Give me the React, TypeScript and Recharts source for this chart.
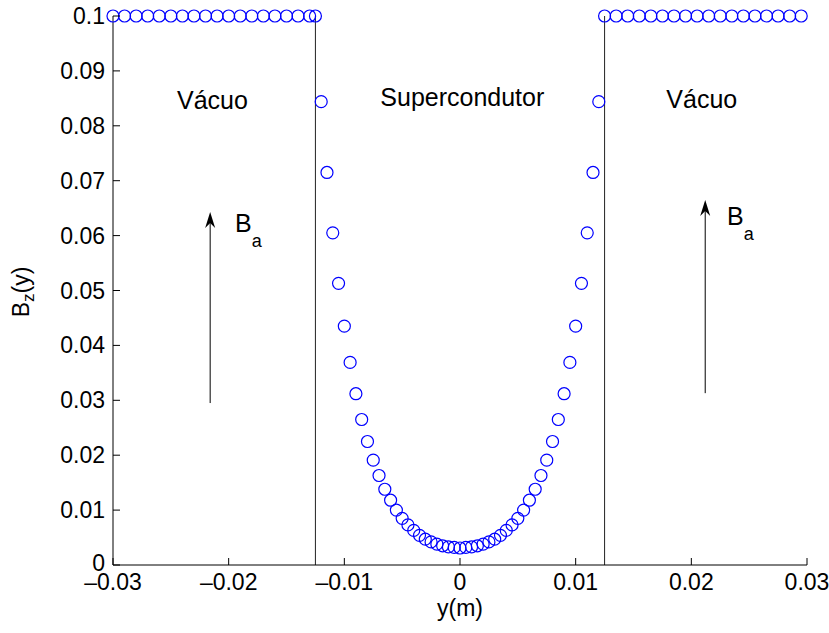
import {
  ScatterChart,
  Scatter,
  XAxis,
  YAxis,
  ReferenceLine,
  ReferenceDot,
} from 'recharts';

// y positions (m) of the field samples
const vacuumLeftY = [
  -0.03, -0.029, -0.028, -0.027, -0.026, -0.025, -0.024, -0.023, -0.022, -0.021,
  -0.02, -0.019, -0.018, -0.017, -0.016, -0.015, -0.014, -0.013, -0.0125,
];
const vacuumRightY = [
  0.0125, 0.0135, 0.0145, 0.0155, 0.0165, 0.0175, 0.0185, 0.0195, 0.0205,
  0.0215, 0.0225, 0.0235, 0.0245, 0.0255, 0.0265, 0.0275, 0.0285, 0.0295,
];
const vacuumB = 0.1;

const superY = [
  -0.012, -0.0115, -0.011, -0.0105, -0.01, -0.0095, -0.009, -0.0085, -0.008,
  -0.0075, -0.007, -0.0065, -0.006, -0.0055, -0.005, -0.0045, -0.004, -0.0035,
  -0.003, -0.0025, -0.002, -0.0015, -0.001, -0.0005, 0, 0.0005, 0.001, 0.0015,
  0.002, 0.0025, 0.003, 0.0035, 0.004, 0.0045, 0.005, 0.0055, 0.006, 0.0065,
  0.007, 0.0075, 0.008, 0.0085, 0.009, 0.0095, 0.01, 0.0105, 0.011, 0.0115, 0.012,
];
const superB = [
  0.0844, 0.0715, 0.0605, 0.0513, 0.0435, 0.0369, 0.0312, 0.0265, 0.0225,
  0.0191, 0.0163, 0.0138, 0.0118, 0.01, 0.0085, 0.0073, 0.0063, 0.0054,
  0.0047, 0.0042, 0.0038, 0.0035, 0.0033, 0.0032, 0.0031, 0.0032, 0.0033, 0.0035,
  0.0038, 0.0042, 0.0047, 0.0054, 0.0063, 0.0073, 0.0085, 0.01, 0.0118, 0.0138,
  0.0163, 0.0191, 0.0225, 0.0265, 0.0312, 0.0369, 0.0435, 0.0513, 0.0605, 0.0715, 0.0844,
];

const xTicks = [-0.03, -0.02, -0.01, 0, 0.01, 0.02, 0.03];
const yTicks = [0, 0.01, 0.02, 0.03, 0.04, 0.05, 0.06, 0.07, 0.08, 0.09, 0.1];
const boundaries = [-0.0125, 0.0125];

// annotations (data coords)
const regionLabels = [
  { x: -0.0214, y: 0.0847, text: 'Vácuo' },
  { x: 0.0002, y: 0.0852, text: 'Supercondutor' },
  { x: 0.0209, y: 0.0849, text: 'Vácuo' },
];
const arrows = [
  { x: -0.0216, from: 0.0295, to: 0.0643, labelX: -0.01945, labelY: 0.0607 },
  { x: 0.0212, from: 0.0313, to: 0.0665, labelX: 0.02308, labelY: 0.0619 },
];

const points = [
  ...vacuumLeftY.map((y) => ({ x: y, b: vacuumB })),
  ...superY.map((y, i) => ({ x: y, b: superB[i] })),
  ...vacuumRightY.map((y) => ({ x: y, b: vacuumB })),
];

const FONT = '"Liberation Sans", Arial, Helvetica, sans-serif';
const TICK_FS = 23;
const TEXT_FS = 25;

const Circle = (p: any) => (
  <circle cx={p.cx} cy={p.cy} r={6} fill="none" stroke="#0000ff" strokeWidth={1.2} />
);

const XTick = ({ x, y, payload }: any) => (
  <g>
    <line x1={x} x2={x} y1={y} y2={y - 7} stroke="#000" />
    <text x={x} y={y + 25} textAnchor="middle" fontSize={TICK_FS} fontFamily={FONT} fill="#000">
      {String(payload.value).replace('-', '\u2013')}
    </text>
  </g>
);

const YTick = ({ x, y, payload }: any) => (
  <g>
    <line x1={x} x2={x + 7} y1={y} y2={y} stroke="#000" />
    <text x={x - 8} y={y + (payload.value === 0 ? 6 : 8)} textAnchor="end" fontSize={TICK_FS} fontFamily={FONT} fill="#000">
      {String(payload.value)}
    </text>
  </g>
);

const TopTick = ({ x, y }: any) => <line x1={x} x2={x} y1={y} y2={y + 7} stroke="#000" />;
const RightTick = ({ x, y }: any) => <line x1={x} x2={x - 7} y1={y} y2={y} stroke="#000" />;

const YLabel = () => (
  <text transform="translate(29,292) rotate(-90)" textAnchor="middle" fontSize={TICK_FS} fontFamily={FONT} fill="#000">
    B<tspan dy={5} fontSize={17}>z</tspan>
    <tspan dy={-5}>(y)</tspan>
  </text>
);

const XLabel = () => (
  <text x={460} y={616} textAnchor="middle" fontSize={TICK_FS} fontFamily={FONT} fill="#000">
    y(m)
  </text>
);

const Arrow = (p: any) => {
  const { x1, y1, y2 } = p;
  const tipY = Math.min(y1, y2);
  const baseY = Math.max(y1, y2);
  const x = x1;
  return (
    <g>
      <line x1={x} x2={x} y1={baseY} y2={tipY + 10} stroke="#000" strokeWidth={1} />
      <path d={`M${x},${tipY} L${x - 5},${tipY + 16} L${x},${tipY + 11} L${x + 5},${tipY + 16} Z`} fill="#000" />
    </g>
  );
};

export default function App() {
  return (
    <div style={{ position: 'absolute', left: 0, top: 0, background: '#fff' }}>
      <ScatterChart width={829} height={633} margin={{ top: 16, right: 22, bottom: 0, left: 0 }}>
        <XAxis
          type="number"
          dataKey="x"
          domain={[-0.03, 0.03]}
          ticks={xTicks}
          height={68}
          tickSize={0}
          tickMargin={0}
          tickLine={false}
          tick={<XTick />}
          axisLine={{ stroke: '#000' }}
          label={<XLabel />}
        />
        <XAxis
          xAxisId="top"
          orientation="top"
          type="number"
          domain={[-0.03, 0.03]}
          ticks={xTicks}
          height={0}
          tickSize={0}
          tickMargin={0}
          tickLine={false}
          tick={<TopTick />}
          axisLine={{ stroke: '#000' }}
        />
        <YAxis
          type="number"
          dataKey="b"
          domain={[0, 0.1]}
          ticks={yTicks}
          width={113}
          tickSize={0}
          tickMargin={0}
          tickLine={false}
          tick={<YTick />}
          axisLine={{ stroke: '#000' }}
          label={<YLabel />}
        />
        <YAxis
          yAxisId="right"
          orientation="right"
          type="number"
          domain={[0, 0.1]}
          ticks={yTicks}
          width={0}
          tickSize={0}
          tickMargin={0}
          tickLine={false}
          tick={<RightTick />}
          axisLine={{ stroke: '#000' }}
        />
        {boundaries.map((b) => (
          <ReferenceLine key={b} x={b} stroke="#222" strokeWidth={1} />
        ))}
        {arrows.map((a, i) => (
          <ReferenceLine
            key={'arrow' + i}
            segment={[
              { x: a.x, y: a.from },
              { x: a.x, y: a.to },
            ]}
            shape={<Arrow />}
          />
        ))}
        {arrows.map((a, i) => (
          <ReferenceDot
            key={'ba' + i}
            x={a.labelX}
            y={a.labelY}
            shape={(p: any) => (
              <text x={p.cx} y={p.cy} fontSize={TEXT_FS} fontFamily={FONT} fill="#000">
                B<tspan dy={15} fontSize={18}>a</tspan>
              </text>
            )}
          />
        ))}
        {regionLabels.map((l, i) => (
          <ReferenceDot
            key={'rl' + i}
            x={l.x}
            y={l.y}
            shape={(p: any) => (
              <text x={p.cx} y={p.cy + 9} textAnchor="middle" fontSize={TEXT_FS} fontFamily={FONT} fill="#000">
                {l.text}
              </text>
            )}
          />
        ))}
        <Scatter data={points} shape={<Circle />} isAnimationActive={false} />
      </ScatterChart>
    </div>
  );
}
